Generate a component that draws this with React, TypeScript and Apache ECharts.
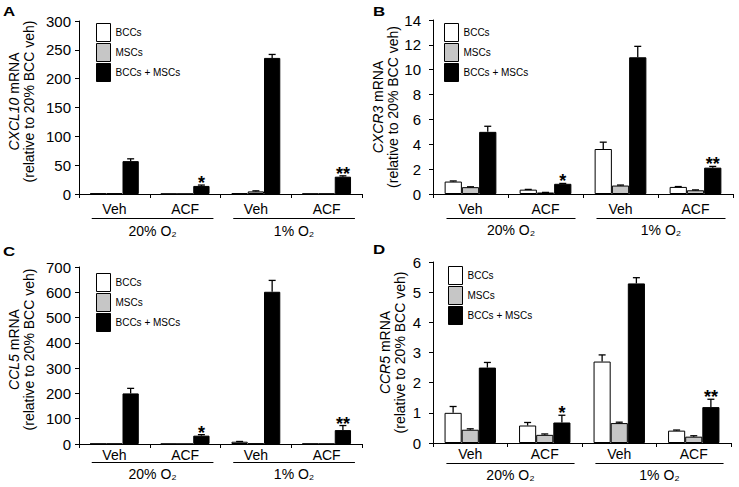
import React, { useEffect, useRef } from 'react';
import * as echarts from 'echarts';

const categories = ['Veh', 'ACF', 'Veh', 'ACF'];
const oxygenGroups = ['20% O₂', '1% O₂'];
const seriesNames = ['BCCs', 'MSCs', 'BCCs + MSCs'];
const panelLetters = ['A', 'B', 'C', 'D'];
const genes = ['CXCL10', 'CXCR3', 'CCL5', 'CCR5'];
const yMax = [300, 14, 700, 6];
const yInterval = [50, 2, 100, 1];

// CXCL10
const cxcl10Bcc = [1, 0.4, 1.2, 0.5];
const cxcl10Msc = [1, 0.3, 4.5, 0.5];
const cxcl10Combo = [57, 14, 236, 30];
const cxcl10BccErr = [0, 0, 0, 0];
const cxcl10MscErr = [0, 0, 1, 0];
const cxcl10ComboErr = [4, 1.5, 6, 1.5];

// CXCR3
const cxcr3Bcc = [1.0, 0.35, 3.62, 0.57];
const cxcr3Msc = [0.55, 0.12, 0.68, 0.3];
const cxcr3Combo = [5.0, 0.82, 11.0, 2.12];
const cxcr3BccErr = [0.05, 0.02, 0.55, 0.03];
const cxcr3MscErr = [0.03, 0.01, 0.04, 0.03];
const cxcr3ComboErr = [0.45, 0.03, 0.88, 0.1];

// CCL5
const ccl5Bcc = [1, 0.5, 9, 1];
const ccl5Msc = [1, 0.3, 2, 0.5];
const ccl5Combo = [200, 33, 602, 55];
const ccl5BccErr = [0, 0, 1, 0];
const ccl5MscErr = [0, 0, 0, 0];
const ccl5ComboErr = [20, 4, 45, 18];

// CCR5
const ccr5Bcc = [1.0, 0.58, 2.7, 0.41];
const ccr5Msc = [0.44, 0.27, 0.66, 0.21];
const ccr5Combo = [2.5, 0.68, 5.29, 1.19];
const ccr5BccErr = [0.21, 0.1, 0.22, 0.02];
const ccr5MscErr = [0.03, 0.03, 0.03, 0.03];
const ccr5ComboErr = [0.17, 0.24, 0.19, 0.26];

const significance = ['', '*', '', '**'];

const panelValues = [
  [cxcl10Bcc, cxcl10Msc, cxcl10Combo],
  [cxcr3Bcc, cxcr3Msc, cxcr3Combo],
  [ccl5Bcc, ccl5Msc, ccl5Combo],
  [ccr5Bcc, ccr5Msc, ccr5Combo],
];
const panelErrors = [
  [cxcl10BccErr, cxcl10MscErr, cxcl10ComboErr],
  [cxcr3BccErr, cxcr3MscErr, cxcr3ComboErr],
  [ccl5BccErr, ccl5MscErr, ccl5ComboErr],
  [ccr5BccErr, ccr5MscErr, ccr5ComboErr],
];

// layout (not data)
const FONT = '"Liberation Sans", Arial, Helvetica, sans-serif';
const grids = [
  { left: 79, top: 21, width: 283, height: 173 },
  { left: 433, top: 20, width: 300, height: 174 },
  { left: 79, top: 267, width: 283, height: 177 },
  { left: 433, top: 262, width: 298, height: 181 },
];
const legendPos = [
  { left: 96, top: 23 },
  { left: 444, top: 23 },
  { left: 96, top: 273 },
  { left: 448, top: 266 },
];
const letterPos = [
  { x: 3, y: 5 },
  { x: 373, y: 5 },
  { x: 3, y: 245 },
  { x: 373, y: 243 },
];
const xLabelMargin = [8, 8, 4, 4];
const underlineOffset = [23.5, 24, 18, 19.5];
const groupLabelOffset = [37, 36, 29.5, 32];
const nameGaps = [43, 26, 43, 26];
const namePad = [[0, 0, 0, 12], [0, 0, 0, 0], [0, 0, 0, 12], [0, 0, 0, 0]];
const labelMargins = [8, 12, 8, 12];
const fills = ['#ffffff', '#c6c6c6', '#000000'];
const BAR_FRAC = 0.23;

export default function App() {
  const ref = useRef<HTMLDivElement>(null);

  useEffect(() => {
    if (!ref.current) return;
    const chart = echarts.init(ref.current, undefined, { renderer: 'svg' });

    const series: any[] = [];
    const xAxes: any[] = [];
    const yAxes: any[] = [];
    const legends: any[] = [];

    for (let p = 0; p < 4; p++) {
      xAxes.push({
        type: 'category',
        gridIndex: p,
        data: categories,
        axisLine: { show: true, lineStyle: { color: '#000', width: 1 } },
        axisTick: { show: true, length: 4, lineStyle: { color: '#000' } },
        axisLabel: { color: '#000', fontSize: 14, fontFamily: FONT, margin: xLabelMargin[p] },
        splitLine: { show: false },
      });
      yAxes.push({
        type: 'value',
        gridIndex: p,
        min: 0,
        max: yMax[p],
        interval: yInterval[p],
        axisLine: { show: true, lineStyle: { color: '#000', width: 1 } },
        axisTick: { show: true, length: 4, lineStyle: { color: '#000' } },
        axisLabel: { color: '#000', fontSize: 15, fontFamily: FONT, margin: labelMargins[p] },
        splitLine: { show: false },
        name: `{i|${genes[p]}} mRNA\n(relative to 20% BCC veh)`,
        nameLocation: 'middle',
        nameRotate: 90,
        nameGap: nameGaps[p],
        nameTextStyle: {
          color: '#000',
          fontSize: 14,
          lineHeight: 15,
          fontFamily: FONT,
          padding: namePad[p],
          rich: {
            i: { fontStyle: 'italic', fontSize: 14, lineHeight: 15, fontFamily: FONT, color: '#000' },
          },
        },
      });
      legends.push({
        orient: 'vertical',
        left: legendPos[p].left,
        top: legendPos[p].top,
        padding: 0,
        itemWidth: 14,
        itemHeight: 18,
        itemGap: 1,
        icon: 'rect',
        selectedMode: false,
        data: seriesNames,
        itemStyle: { borderColor: '#000', borderWidth: 1 },
        textStyle: { fontSize: 10, color: '#000', fontFamily: FONT },
      });
      for (let k = 0; k < 3; k++) {
        series.push({
          type: 'bar',
          name: seriesNames[k],
          xAxisIndex: p,
          yAxisIndex: p,
          barWidth: BAR_FRAC * 100 + '%',
          barGap: '0%',
          itemStyle: { color: fills[k], borderColor: '#000', borderWidth: 1 },
          emphasis: { disabled: true },
          data: panelValues[p][k],
        });
      }
      const errData: any[] = [];
      for (let c = 0; c < 4; c++) {
        for (let k = 0; k < 3; k++) {
          errData.push([c, k, panelValues[p][k][c], panelErrors[p][k][c]]);
        }
      }
      series.push({
        type: 'custom',
        xAxisIndex: p,
        yAxisIndex: p,
        z: 5,
        silent: true,
        encode: { x: 0, y: 2 },
        data: errData,
        renderItem: (params: any, api: any) => {
          const c = api.value(0);
          const k = api.value(1);
          const v = api.value(2);
          const e = api.value(3);
          const base = api.coord([c, v]);
          const top = api.coord([c, v + e]);
          const band = api.size([1, 0])[0];
          const bw = band * BAR_FRAC;
          const cx = base[0] + (k - 1) * bw;
          const children: any[] = [];
          if (e > 0) {
            children.push({
              type: 'line',
              shape: { x1: cx, y1: base[1], x2: cx, y2: top[1] },
              style: { stroke: '#000', lineWidth: 1.3 },
            });
            children.push({
              type: 'line',
              shape: { x1: cx - 3.5, y1: top[1], x2: cx + 3.5, y2: top[1] },
              style: { stroke: '#000', lineWidth: 1.3 },
            });
          }
          const star = k === 2 ? significance[c] : '';
          if (star) {
            children.push({
              type: 'text',
              x: cx,
              y: top[1] - 2,
              style: {
                text: star,
                fontSize: 18,
                fontWeight: 'bold',
                fontFamily: FONT,
                fill: '#000',
                align: 'center',
                verticalAlign: 'middle',
                textAlign: 'center',
                textVerticalAlign: 'middle',
              },
            });
          }
          return { type: 'group', children };
        },
      });
    }

    chart.setOption({
      animation: false,
      backgroundColor: '#fff',
      textStyle: { fontFamily: FONT },
      grid: grids.map((g) => ({ ...g, containLabel: false })),
      xAxis: xAxes,
      yAxis: yAxes,
      legend: legends,
      series,
    });

    const graphic: any[] = [];
    for (let p = 0; p < 4; p++) {
      const c0 = chart.convertToPixel({ gridIndex: p }, [0, 0]) as number[];
      const c1 = chart.convertToPixel({ gridIndex: p }, [1, 0]) as number[];
      const band = c1[0] - c0[0];
      const axisY = c0[1];
      const lineY = Math.round(axisY + underlineOffset[p]) + 0.5;
      for (let gi = 0; gi < 2; gi++) {
        const a = chart.convertToPixel({ gridIndex: p }, [gi * 2, 0]) as number[];
        const b = chart.convertToPixel({ gridIndex: p }, [gi * 2 + 1, 0]) as number[];
        const x0 = a[0] - 0.32 * band;
        const x1 = b[0] + 0.4 * band;
        graphic.push({
          type: 'line',
          shape: { x1: x0, y1: lineY, x2: x1, y2: lineY },
          style: { stroke: '#000', lineWidth: 1 },
        });
        graphic.push({
          type: 'text',
          x: (x0 + x1) / 2,
          y: axisY + groupLabelOffset[p],
          style: {
            text: oxygenGroups[gi],
            fontSize: 14,
            fontFamily: FONT,
            fill: '#000',
            align: 'center',
            verticalAlign: 'middle',
          },
        });
      }
      graphic.push({
        type: 'text',
        x: letterPos[p].x,
        y: letterPos[p].y,
        scaleX: 1.3,
        style: {
          text: panelLetters[p],
          fontSize: 13,
          fontWeight: 'bold',
          fontFamily: FONT,
          fill: '#000',
        },
      });
    }
    chart.setOption({ graphic });

    return () => chart.dispose();
  }, []);

  return (
    <div
      ref={ref}
      style={{ position: 'fixed', left: 0, top: 0, width: 739, height: 487, background: '#fff' }}
    />
  );
}
